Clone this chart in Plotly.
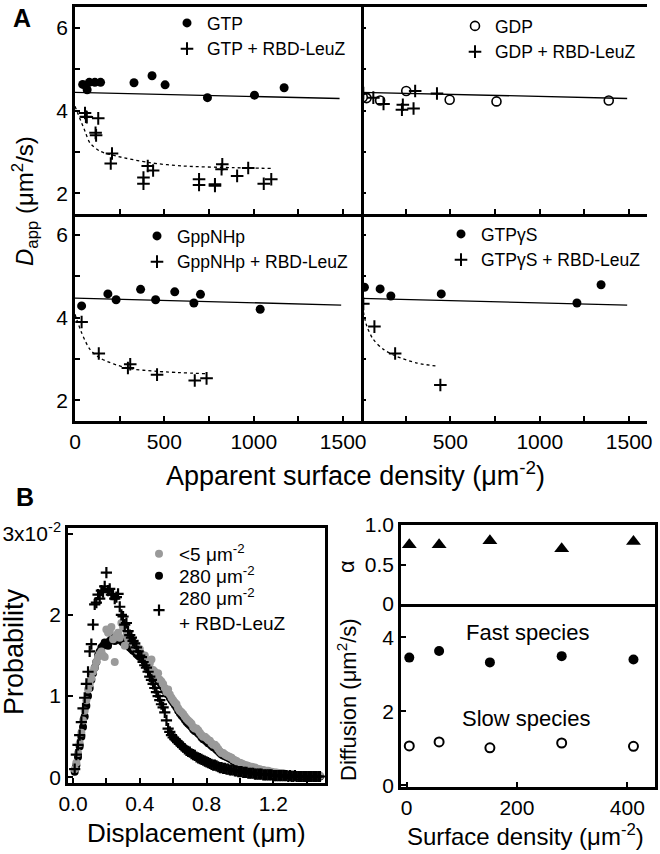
import plotly.graph_objects as go

W, H = 660, 854
FONT = "Liberation Sans, Arial, sans-serif"

# ---------------- Panel A data (apparent surface density, D_app) ----------------
gtp_x = [43, 68, 80, 111, 143, 330, 431, 504, 741, 1004, 1170]
gtp_y = [4.63, 4.50, 4.68, 4.68, 4.68, 4.67, 4.84, 4.62, 4.31, 4.37, 4.55]
gtp_rbd_x = [56, 61, 66, 130, 115, 118, 207, 200, 383, 383, 407, 437, 694, 694,
             783, 783, 824, 820, 907, 969, 1056, 1098]
gtp_rbd_y = [3.94, 3.85, 3.84, 3.81, 3.46, 3.40, 2.96, 2.72, 2.38, 2.23, 2.66, 2.55,
             2.34, 2.20, 2.22, 2.18, 2.70, 2.58, 2.42, 2.61, 2.23, 2.34]
gtp_fit_x = [0, 1480]
gtp_fit_y = [4.44, 4.29]
gtp_rbd_fit_x = [0, 56, 83, 139, 231, 417, 602, 880, 1102]
gtp_rbd_fit_y = [4.10, 3.50, 3.22, 3.02, 2.90, 2.74, 2.66, 2.62, 2.60]

gdp_x = [10, 31, 107, 253, 496, 758, 1386]
gdp_y = [4.32, 4.30, 4.24, 4.47, 4.26, 4.22, 4.24]
gdp_rbd_x = [13, 69, 126, 234, 229, 294, 303, 425]
gdp_rbd_y = [4.42, 4.31, 4.16, 4.14, 4.02, 4.05, 4.47, 4.41]
gdp_fit_x = [0, 1489]
gdp_fit_y = [4.44, 4.29]

gpp_x = [37, 184, 230, 367, 451, 558, 665, 702, 1036]
gpp_y = [4.28, 4.57, 4.43, 4.68, 4.43, 4.62, 4.35, 4.56, 4.20]
gpp_rbd_x = [37, 133, 309, 296, 459, 670, 736]
gpp_rbd_y = [3.89, 3.13, 2.87, 2.78, 2.62, 2.48, 2.53]
gpp_fit_x = [0, 1489]
gpp_fit_y = [4.47, 4.30]
gpp_rbd_fit_x = [0, 37, 84, 140, 290, 459, 739]
gpp_rbd_fit_y = [4.08, 3.63, 3.23, 3.02, 2.78, 2.70, 2.64]

gtps_x = [19, 107, 167, 449, 1208, 1343]
gtps_y = [4.73, 4.69, 4.52, 4.57, 4.35, 4.79]
gtps_rbd_x = [13, 75, 191, 444]
gtps_rbd_y = [4.33, 3.78, 3.13, 2.37]
gtps_fit_x = [0, 1489]
gtps_fit_y = [4.46, 4.30]
gtps_rbd_fit_x = [7, 32, 69, 126, 200, 313, 434]
gtps_rbd_fit_y = [4.28, 3.80, 3.47, 3.23, 3.06, 2.90, 2.82]

# ---------------- Panel B left: displacement histograms (x1e-2) ----------------
bin_width = 0.01
prob_rbd = [0.10, 0.28, 0.40, 0.52, 0.68, 0.85, 0.98, 1.15, 1.30, 1.55,
            1.64, 1.88, 2.13, 2.15, 2.25, 2.20, 2.30, 2.28, 2.35, 2.52,
            2.30, 2.32, 2.25, 2.25, 2.20, 2.22, 2.26, 2.10, 2.00, 1.98,
            1.88, 1.90, 1.80, 1.75, 1.72, 1.68, 1.65, 1.60, 1.55, 1.50,
            1.48, 1.42, 1.38, 1.35, 1.30, 1.24, 1.20, 1.15, 1.10, 1.05,
            1.00, 0.95, 0.90, 0.86, 0.80, 0.70, 0.60, 0.56, 0.52, 0.49,
            0.47, 0.45, 0.43, 0.41, 0.39, 0.37, 0.35, 0.33, 0.32, 0.31,
            0.29, 0.28, 0.27, 0.25, 0.24, 0.23, 0.22, 0.21, 0.20, 0.19,
            0.18, 0.17, 0.16, 0.15, 0.15, 0.14, 0.13, 0.12, 0.12, 0.11,
            0.11, 0.10, 0.10, 0.09, 0.09, 0.09, 0.08, 0.08, 0.07, 0.07,
            0.07, 0.06, 0.06, 0.06, 0.05, 0.05, 0.05, 0.05, 0.04, 0.04,
            0.04, 0.04, 0.04, 0.03, 0.03, 0.03, 0.03, 0.03, 0.03, 0.02,
            0.02, 0.02, 0.02, 0.02, 0.02, 0.02, 0.02, 0.02, 0.01, 0.02,
            0.01, 0.01, 0.02, 0.01, 0.01, 0.01, 0.01, 0.01, 0.01, 0.01,
            0.01, 0.01, 0.01, 0.01, 0.01, 0.01, 0.01, 0.01]
prob_280 = [0.07, 0.15, 0.25, 0.38, 0.50, 0.62, 0.75, 0.88, 1.00, 1.10,
            1.20, 1.28, 1.35, 1.42, 1.50, 1.55, 1.60, 1.62, 1.66, 1.65,
            1.62, 1.68, 1.70, 1.72, 1.68, 1.70, 1.72, 1.70, 1.68, 1.66,
            1.66, 1.64, 1.62, 1.60, 1.58, 1.56, 1.55, 1.52, 1.50, 1.48,
            1.50, 1.45, 1.42, 1.40, 1.36, 1.34, 1.30, 1.31, 1.25, 1.22,
            1.20, 1.17, 1.14, 1.11, 1.07, 1.03, 1.02, 0.98, 0.95, 0.92,
            0.89, 0.86, 0.82, 0.79, 0.76, 0.74, 0.71, 0.68, 0.66, 0.64,
            0.62, 0.59, 0.57, 0.56, 0.54, 0.52, 0.49, 0.47, 0.46, 0.44,
            0.42, 0.41, 0.39, 0.37, 0.36, 0.34, 0.32, 0.30, 0.28, 0.27,
            0.26, 0.25, 0.24, 0.23, 0.22, 0.20, 0.19, 0.18, 0.17, 0.16,
            0.15, 0.15, 0.14, 0.13, 0.13, 0.12, 0.11, 0.11, 0.10, 0.10,
            0.09, 0.09, 0.08, 0.08, 0.07, 0.07, 0.07, 0.06, 0.06, 0.05,
            0.05, 0.05, 0.05, 0.04, 0.04, 0.04, 0.04, 0.03, 0.03, 0.03,
            0.03, 0.03, 0.02, 0.02, 0.02, 0.02, 0.02, 0.02, 0.02, 0.02,
            0.02, 0.01, 0.02, 0.01, 0.01, 0.01, 0.01, 0.01]
prob_low = [0.10, 0.18, 0.30, 0.42, 0.55, 0.70, 0.82, 0.95, 1.08, 1.15,
            1.22, 1.30, 1.35, 1.42, 1.48, 1.52, 1.55, 1.50, 1.48, 1.82,
            1.78, 1.80, 1.85, 1.70, 1.42, 1.75, 1.78, 1.72, 1.90, 1.85,
            1.62, 1.75, 1.70, 1.72, 1.68, 1.65, 1.60, 1.62, 1.55, 1.58,
            1.52, 1.48, 1.50, 1.42, 1.38, 1.40, 1.45, 1.32, 1.30, 1.25,
            1.28, 1.20, 1.18, 1.15, 1.10, 1.05, 1.08, 1.02, 0.98, 0.95,
            0.92, 0.90, 0.85, 0.82, 0.80, 0.78, 0.75, 0.72, 0.70, 0.68,
            0.66, 0.62, 0.60, 0.60, 0.58, 0.55, 0.52, 0.50, 0.50, 0.48,
            0.46, 0.45, 0.42, 0.40, 0.40, 0.38, 0.35, 0.32, 0.30, 0.30,
            0.28, 0.27, 0.26, 0.25, 0.24, 0.22, 0.21, 0.20, 0.18, 0.18,
            0.17, 0.16, 0.15, 0.15, 0.14, 0.13, 0.13, 0.12, 0.12, 0.11,
            0.10, 0.10, 0.09, 0.09, 0.08, 0.08, 0.08, 0.07, 0.07, 0.06,
            0.06, 0.06, 0.05, 0.05, 0.05, 0.05, 0.04, 0.04, 0.04, 0.04,
            0.04, 0.03, 0.03, 0.03, 0.03, 0.03, 0.03, 0.03, 0.02, 0.03,
            0.02, 0.02, 0.03, 0.02, 0.02, 0.02, 0.02, 0.02]
disp = [round(bin_width * (i + 1), 2) for i in range(len(prob_low))]

# ---------------- Panel B right ----------------
dens_x = [5, 59, 151, 281, 411]
alpha_y = [0.75, 0.75, 0.80, 0.70, 0.79]
fast_y = [3.45, 3.63, 3.32, 3.49, 3.40]
slow_y = [1.06, 1.17, 1.01, 1.14, 1.05]

# ---------------- helpers ----------------
def px(x):
    return x / W

def py(y):
    return 1 - y / H

def axis(dom, rng, **kw):
    d = dict(domain=dom, range=rng, showline=True, linecolor="black", linewidth=2.5,
             mirror=True, ticks="inside", ticklen=5, tickwidth=2, tickcolor="black",
             showgrid=False, zeroline=False, automargin=False,
             tickfont=dict(size=21, family=FONT, color="black"), fixedrange=True)
    d.update(kw)
    return d

BLACK = "black"
GRAY = "#9a9a9a"

fig = go.Figure()

def pts(x, y, xa, ya, name, symbol, size, color=BLACK, legend=None, lw=0, show=True, lcolor=None):
    fig.add_trace(go.Scatter(
        x=x, y=y, xaxis=xa, yaxis=ya, mode="markers", name=name,
        marker=dict(symbol=symbol, size=size, color=color,
                    line=dict(width=lw, color=lcolor or color)),
        showlegend=show, legend=legend))

def fit(x, y, xa, ya, dash="solid"):
    fig.add_trace(go.Scatter(
        x=x, y=y, xaxis=xa, yaxis=ya, mode="lines", showlegend=False,
        line=dict(color=BLACK, width=1.3, dash=dash, shape="spline", smoothing=0.8)))

# A top-left
fit(gtp_fit_x, gtp_fit_y, "x", "y")
fit(gtp_rbd_fit_x, gtp_rbd_fit_y, "x", "y", dash="3px,3px")
pts(gtp_x, gtp_y, "x", "y", "GTP", "circle", 9, legend="legend")
pts(gtp_rbd_x, gtp_rbd_y, "x", "y", "GTP + RBD-LeuZ", "cross-thin", 9, lw=2, legend="legend")
# A top-right
fit(gdp_fit_x, gdp_fit_y, "x2", "y2")
pts(gdp_x, gdp_y, "x2", "y2", "GDP", "circle-open", 9, lw=1.6, legend="legend2")
pts(gdp_rbd_x, gdp_rbd_y, "x2", "y2", "GDP + RBD-LeuZ", "cross-thin", 9, lw=2, legend="legend2")
# A bottom-left
fit(gpp_fit_x, gpp_fit_y, "x3", "y3")
fit(gpp_rbd_fit_x, gpp_rbd_fit_y, "x3", "y3", dash="3px,3px")
pts(gpp_x, gpp_y, "x3", "y3", "GppNHp", "circle", 9, legend="legend3")
pts(gpp_rbd_x, gpp_rbd_y, "x3", "y3", "GppNHp + RBD-LeuZ", "cross-thin", 9, lw=2, legend="legend3")
# A bottom-right
fit(gtps_fit_x, gtps_fit_y, "x4", "y4")
fit(gtps_rbd_fit_x, gtps_rbd_fit_y, "x4", "y4", dash="3px,3px")
pts(gtps_x, gtps_y, "x4", "y4", "GTPγS", "circle", 9, legend="legend4")
pts(gtps_rbd_x, gtps_rbd_y, "x4", "y4", "GTPγS + RBD-LeuZ", "cross-thin", 9, lw=2, legend="legend4")

# B left (each legend entry in its own legend box for exact spacing)
pts(disp, prob_280, "x5", "y5", "280 μm<sup>-2</sup>", "circle", 8, legend="legend6")
pts(disp, prob_low, "x5", "y5", "<5 μm<sup>-2</sup>", "circle", 8, color=GRAY, legend="legend5")
pts(disp, prob_rbd, "x5", "y5", "280 μm<sup>-2</sup><br>+ RBD-LeuZ", "cross-thin", 8, lw=2.2,
    legend="legend7")

# B right
pts(dens_x, alpha_y, "x6", "y6", "alpha", "triangle-up", 13, show=False)
pts(dens_x, fast_y, "x7", "y7", "fast", "circle", 10, show=False)
pts(dens_x, slow_y, "x7", "y7", "slow", "circle-open", 9, lw=2, show=False)

# ---------------- layout ----------------
A_L, A_M, A_R = 75, 361, 647
A_T, A_D, A_B = 7, 214, 421
yA_range = [1.5, 6.5]
yA_minor = dict(ticks="inside", dtick=1, tick0=0, ticklen=5, tickwidth=2, tickcolor="black")
xA_minor = dict(ticks="inside", dtick=250, tick0=0, ticklen=5, tickwidth=2, tickcolor="black")

layout = dict(
    width=W, height=H, margin=dict(l=0, r=0, t=0, b=0, autoexpand=False),
    paper_bgcolor="white", plot_bgcolor="white",
    font=dict(family=FONT, color="black"),
    xaxis=axis([px(A_L), px(A_M)], [0, 1600], showticklabels=False, tickmode="linear",
               tick0=0, dtick=500, minor=xA_minor, anchor="y"),
    yaxis=axis([py(A_D), py(A_T)], yA_range, tickmode="linear", tick0=0, dtick=2,
               minor=yA_minor, anchor="x"),
    xaxis2=axis([px(A_M), px(A_R)], [0, 1600], showticklabels=False, tickmode="linear",
                tick0=0, dtick=500, minor=xA_minor, anchor="y2"),
    yaxis2=axis([py(A_D), py(A_T)], yA_range, showticklabels=False, tickmode="linear",
                tick0=0, dtick=2, minor=yA_minor, anchor="x2", showline=False),
    xaxis3=axis([px(A_L), px(A_M)], [0, 1600], tickmode="array",
                tickvals=[0, 500, 1000, 1500], ticktext=["0", "500", "1000", "1500"],
                minor=xA_minor, anchor="y3", mirror=False),
    yaxis3=axis([py(A_B), py(A_D)], yA_range, tickmode="linear", tick0=0, dtick=2,
                minor=yA_minor, anchor="x3"),
    xaxis4=axis([px(A_M), px(A_R)], [0, 1600], tickmode="array",
                tickvals=[0, 500, 1000, 1500], ticktext=["", "500", "1000", "1500"],
                minor=xA_minor, anchor="y4", mirror=False),
    yaxis4=axis([py(A_B), py(A_D)], yA_range, showticklabels=False, tickmode="linear",
                tick0=0, dtick=2, minor=yA_minor, anchor="x4", showline=False),
    # B left
    xaxis5=axis([px(68), px(325)], [-0.03, 1.51], tickmode="array",
                tickvals=[0, 0.4, 0.8, 1.2], ticktext=["0.0", "0.4", "0.8", "1.2"],
                minor=dict(ticks="inside", tickvals=[0.2, 0.6, 1.0, 1.4], ticklen=5,
                           tickwidth=2, tickcolor="black"), anchor="y5"),
    yaxis5=axis([py(783), py(528)], [-0.07, 3.07], tickmode="array",
                tickvals=[0, 1, 2, 3], ticktext=["0", "1", "2", "3x10<sup>-2</sup>"],
                anchor="x5"),
    # B right alpha
    xaxis6=axis([px(401), px(655)], [-10, 450], showticklabels=False, ticks="",
                anchor="y6"),
    yaxis6=axis([py(604), py(525)], [0, 1.0], tickmode="array", tickvals=[0, 0.5, 1.0],
                ticktext=["0", "0.5", "1.0"], anchor="x6"),
    # B right diffusion
    xaxis7=axis([px(401), px(655)], [-10, 450], tickmode="array", tickvals=[0, 200, 400],
                anchor="y7", mirror=False),
    yaxis7=axis([py(787), py(604)], [-0.05, 4.9], tickmode="array", tickvals=[0, 2, 4],
                anchor="x7"),
)

def leg(x, ytop, size=17.5):
    return dict(x=px(x), y=py(ytop), xanchor="left", yanchor="top", bgcolor="rgba(0,0,0,0)",
                font=dict(size=size, family=FONT, color="black"), itemwidth=30,
                tracegroupgap=0, traceorder="normal", borderwidth=0)

layout["legend"] = leg(167, 5)
layout["legend2"] = leg(455, 8)
layout["legend3"] = leg(137, 218)
layout["legend4"] = leg(441, 216)
layout["legend5"] = leg(139, 535, size=19)
layout["legend6"] = leg(139, 557, size=19)
layout["legend7"] = leg(139, 579, size=19)

fig.update_layout(**layout)

def ann(text, x, y, size, angle=0, bold=False, xanchor="center"):
    fig.add_annotation(text=("<b>%s</b>" % text) if bold else text, x=px(x), y=py(y),
                       xref="paper", yref="paper", showarrow=False, textangle=angle,
                       xanchor=xanchor, yanchor="middle",
                       font=dict(size=size, family=FONT, color="black"))

ann("A", 22, 18, 25, bold=True)
ann("B", 25, 497, 25, bold=True)
ann("Apparent surface density (μm<sup>-2</sup>)", 355, 474, 27)
ann("<i>D</i><sub>app</sub> (μm<sup>2</sup>/s)", 25, 201, 24, angle=-90)
ann("Probability", 14, 652, 27, angle=-90)
ann("Displacement (μm)", 196, 833, 26)
ann("Surface density (μm<sup>-2</sup>)", 525, 835, 24)
ann("Diffusion (μm<sup>2</sup>/s)", 347, 700, 22, angle=-90)
ann("α", 346, 567, 22, angle=-90)
ann("Fast species", 528, 632, 22)
ann("Slow species", 526, 718, 22)

fig.write_html("out.html", config={"displayModeBar": False},
               post_script="document.body.style.margin='0';document.body.style.padding='0';"
                           "window.dispatchEvent(new Event('resize'));")
